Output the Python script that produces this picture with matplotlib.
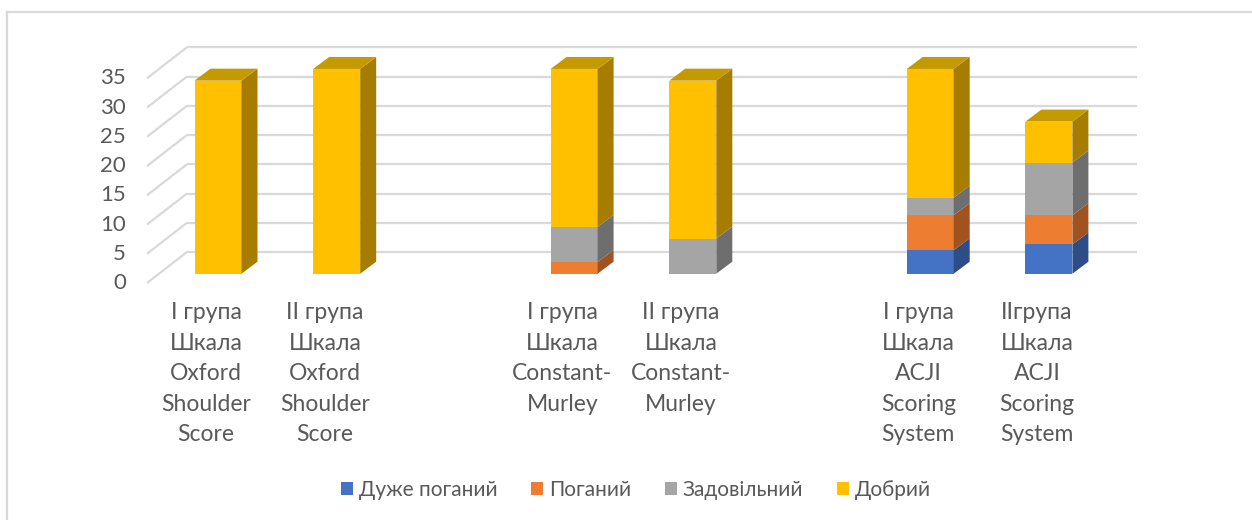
import matplotlib.pyplot as plt
from matplotlib.patches import Polygon, Patch
from matplotlib.lines import Line2D

plt.rcParams['font.family'] = ['Lato', 'DejaVu Sans']

categories = [
    "I група\nШкала\nOxford\nShoulder\nScore",
    "II група\nШкала\nOxford\nShoulder\nScore",
    "",
    "I група\nШкала\nConstant-\nMurley",
    "II група\nШкала\nConstant-\nMurley",
    "",
    "I група\nШкала\nACJI\nScoring\nSystem",
    "IIгрупа\nШкала\nACJI\nScoring\nSystem",
]
series_names = ["Дуже поганий", "Поганий", "Задовільний", "Добрий"]
very_poor = [0, 0, 0, 0, 0, 0, 4, 5]
poor = [0, 0, 0, 2, 0, 0, 6, 5]
fair = [0, 0, 0, 6, 6, 0, 3, 9]
good = [33, 35, 0, 27, 27, 0, 22, 7]
y_ticks = [0, 5, 10, 15, 20, 25, 30, 35]

# front, side, top shades per series
front_colors = ["#4472C4", "#ED7D31", "#A5A5A5", "#FFC000"]
side_colors = ["#2C4D87", "#A0531F", "#6E6E6E", "#A67D00"]
top_colors = ["#3A62A8", "#C9692A", "#8C8C8C", "#C49A00"]

TEXT = "#595959"
GRID = "#D9D9D9"

W, H = 1252, 520
fig = plt.figure(figsize=(W / 100, H / 100), dpi=100)
ax = fig.add_axes([0, 0, 1, 1])

# pixel layout of the plot area
x0_px, step_px = 218.0, 118.7       # centre of first column, column pitch
y0_px, unit_px = 273.7, 5.85        # bar base, pixels per unit
ax.set_xlim(-x0_px / step_px, (W - x0_px) / step_px)
ax.set_ylim((y0_px - H) / unit_px, y0_px / unit_px)
ax.axis("off")


def px_x(p):
    return (p - x0_px) / step_px


def px_y(p):
    return (y0_px - p) / unit_px


bar_w = 47 / step_px
dx, dy = 16 / step_px, 12 / unit_px          # bar depth offset
wall_left, wall_right = px_x(187), px_x(1137)
front_left = px_x(147)
wall_shift = px_y(252)                       # back wall rise of the zero line
front_shift = px_y(283)                      # front edge drop

# walls: gridlines on the back wall and the left side wall
for v in y_ticks:
    ax.plot([wall_left, wall_right], [v + wall_shift, v + wall_shift],
            color=GRID, lw=1.6, zorder=1, solid_capstyle="butt")
    ax.plot([front_left, wall_left], [v + front_shift, v + wall_shift],
            color=GRID, lw=1.6, zorder=1, solid_capstyle="butt")
    ax.text(px_x(126), v + front_shift, str(v), ha="right", va="center",
            fontsize=16, color=TEXT)

series = [very_poor, poor, fair, good]
for i in range(len(categories)):
    bottom = 0
    total = sum(s[i] for s in series)
    for k, vals in enumerate(series):
        v = vals[i]
        if v == 0:
            continue
        ax.bar(i, v, width=bar_w, bottom=bottom, color=front_colors[k],
               zorder=3, linewidth=0)
        xr = i + bar_w / 2
        top = bottom + v
        side = Polygon([(xr, bottom), (xr, top), (xr + dx, top + dy),
                        (xr + dx, bottom + dy)], closed=True,
                       facecolor=side_colors[k], edgecolor="none", zorder=3)
        ax.add_patch(side)
        if top == total:
            xl = i - bar_w / 2
            cap = Polygon([(xl, top), (xr, top), (xr + dx, top + dy),
                           (xl + dx, top + dy)], closed=True,
                          facecolor=top_colors[k], edgecolor="none", zorder=3)
            ax.add_patch(cap)
        bottom = top

# category labels
for i, label in enumerate(categories):
    if label:
        ax.text(i - 0.1, px_y(302), label, ha="center", va="top",
                fontsize=16.5, color=TEXT, linespacing=1.56)

# legend, in a narrower face so it keeps its width at full size
handles = [Patch(facecolor=c, edgecolor="none") for c in front_colors]
fig.legend(handles, series_names, loc="center",
           bbox_to_anchor=(636 / W, 1 - 490 / H), ncol=4, frameon=False,
           prop={"family": ["Liberation Sans Narrow", "Lato"], "size": 15},
           labelcolor=TEXT, handlelength=0.58, handleheight=0.58,
           handletextpad=0.29, columnspacing=1.6)

# chart frame
fig.add_artist(Line2D([7 / W, 7 / W], [0, 1 - 12 / H], color=GRID, lw=1.6,
                      transform=fig.transFigure))
fig.add_artist(Line2D([7 / W, 1], [1 - 12 / H, 1 - 12 / H], color=GRID,
                      lw=1.6, transform=fig.transFigure))

fig.savefig("out.png", dpi=100, facecolor="white")
